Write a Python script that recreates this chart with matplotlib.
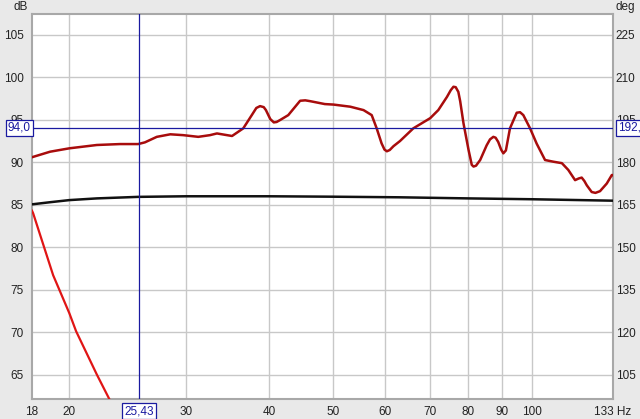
import matplotlib
matplotlib.use("Agg")
import matplotlib.pyplot as plt
from matplotlib.ticker import NullLocator

plt.rcParams['font.family'] = ['Liberation Sans', 'DejaVu Sans']

# SPL trace (dB)
spl_freq = [17.56, 18.7, 20.0, 22.0, 23.85, 25.4, 26.0, 27.1, 28.4, 29.7, 31.3, 32.6,
            33.4, 35.2, 36.6, 37.7, 38.3, 38.8, 39.3, 39.6, 40.2, 40.7, 41.1, 41.6, 42.8,
            44.6, 45.4, 46.2, 48.6, 50.1, 53.1, 55.6, 57.2, 58.2, 59.2, 59.8, 60.3, 60.9,
            61.7, 63.1, 66.1, 70.1, 72.1, 74.3, 75.3, 76.0, 76.6, 77.3, 77.8, 78.7, 80.1,
            81.0, 81.5, 82.2, 83.4, 85.3, 86.3, 87.3, 88.0, 88.8, 89.7, 90.4, 91.2,
            92.5, 94.7, 95.8, 96.9, 99.2, 101.5, 104.5, 107.6, 110.8, 113.3, 116.0,
            117.5, 118.7, 119.8, 120.8, 122.9, 124.5, 126.5, 129.5, 131.8, 132.4]
spl_db = [90.6, 91.25, 91.65, 92.04, 92.15, 92.15, 92.35, 93.0, 93.3, 93.2, 93.0, 93.2,
          93.4, 93.1, 94.0, 95.56, 96.4, 96.62, 96.5, 96.15, 95.1, 94.7, 94.75, 94.98, 95.56,
          97.25, 97.3, 97.2, 96.86, 96.8, 96.55, 96.15, 95.56, 94.0, 92.23, 91.5, 91.3, 91.45,
          91.9, 92.5, 94.0, 95.2, 96.15, 97.7, 98.5, 98.9, 98.85, 98.3, 97.2, 94.6, 91.45,
          89.7, 89.5, 89.6, 90.27, 92.0, 92.7, 93.0, 92.9, 92.4, 91.5, 91.06, 91.4,
          94.0, 95.84, 95.9, 95.56, 94.0, 92.2, 90.27, 90.07, 89.9, 89.1, 87.9,
          88.1, 88.2, 87.8, 87.3, 86.5, 86.4, 86.6, 87.5, 88.5, 88.5]

# flat reference trace (dB)
ref_freq = [17.56, 18.7, 20.0, 22.0, 25.4, 30.0, 40.0, 50.0, 63.0, 80.0, 100.0, 132.4]
ref_db = [85.05, 85.3, 85.55, 85.75, 85.93, 86.0, 86.0, 85.95, 85.88, 85.75, 85.65, 85.48]

# steep falling trace (dB)
low_freq = [17.56, 17.63, 18.9, 20.0, 20.47, 22.0, 22.98, 23.3]
low_db = [84.3, 84.0, 76.7, 72.2, 70.1, 65.0, 62.1, 61.2]

x_ticks = [17.56, 20, 30, 40, 50, 60, 70, 80, 90, 100, 132.4]
x_labels = ["18", "20", "30", "40", "50", "60", "70", "80", "90", "100", "133 Hz"]
db_ticks = [65, 70, 75, 80, 85, 90, 95, 100, 105]
deg_ticks = [105, 120, 135, 150, 165, 180, 195, 210, 225]

cursor_f = 25.43
cursor_db = 94.0

fig = plt.figure(figsize=(6.4, 4.19), dpi=100, facecolor='#e9e9e9')
ax = fig.add_axes([0.05, 0.0477, 0.908, 0.9189])
ax.set_facecolor('white')
ax.set_xscale('log')
ax.set_xlim(17.56, 132.4)
ax.set_ylim(62.12, 107.47)

ax.xaxis.set_minor_locator(NullLocator())
ax.set_xticks(x_ticks)
ax.set_xticklabels(x_labels, fontsize=8.5, color='#222222')
ax.set_yticks(db_ticks)
ax.set_yticklabels([str(t) for t in db_ticks], fontsize=8.5, color='#222222')
ax.tick_params(length=0, pad=6)
ax.tick_params(axis='x', pad=5)

for f in x_ticks[1:-1]:
    ax.axvline(f, color='#c8c8c8', lw=1, zorder=1)
for t in db_ticks:
    ax.axhline(t, color='#c8c8c8', lw=1, zorder=1)

for s in ax.spines.values():
    s.set_color('#a8a8a8')
    s.set_linewidth(1.5)

ax.plot(ref_freq, ref_db, color='#111111', lw=1.8, zorder=3)
ax.plot(low_freq, low_db, color='#e01515', lw=1.6, zorder=3)
ax.plot(spl_freq, spl_db, color='#a80c0c', lw=1.8, zorder=4, solid_joinstyle='round')

ax.axvline(cursor_f, color='#1a1aa0', lw=0.9, zorder=5)
ax.axhline(cursor_db, color='#1a1aa0', lw=0.9, zorder=5)

ax2 = ax.twinx()
ax2.set_ylim(165 + (62.12 - 85) * 3, 165 + (107.47 - 85) * 3)
ax2.set_yticks(deg_ticks)
ax2.set_yticklabels([str(t) for t in deg_ticks], fontsize=8.5, color='#222222')
ax2.tick_params(length=0, pad=2)
for s in ax2.spines.values():
    s.set_visible(False)

fig.text(13 / 640, 1 - 7 / 419, "dB", fontsize=8.5, color='#222222', ha='left', va='center')
fig.text(616 / 640, 1 - 7 / 419, "deg", fontsize=8.5, color='#222222', ha='left', va='center')

box = dict(boxstyle='square,pad=0.15', fc='white', ec='#1a1aa0', lw=0.9)
fig.text(19.5 / 640, 1 - 128 / 419, "94,0", fontsize=8.5, color='#1a1aa0',
         ha='center', va='center', bbox=box)
fig.text(618 / 640, 1 - 128 / 419, "192,0", fontsize=8.5, color='#1a1aa0',
         ha='left', va='center', bbox=box)
fig.text(139 / 640, 1 - 411 / 419, "25,43", fontsize=8.5, color='#1a1aa0',
         ha='center', va='center', bbox=box)

fig.savefig("out.png", dpi=100, facecolor=fig.get_facecolor())
